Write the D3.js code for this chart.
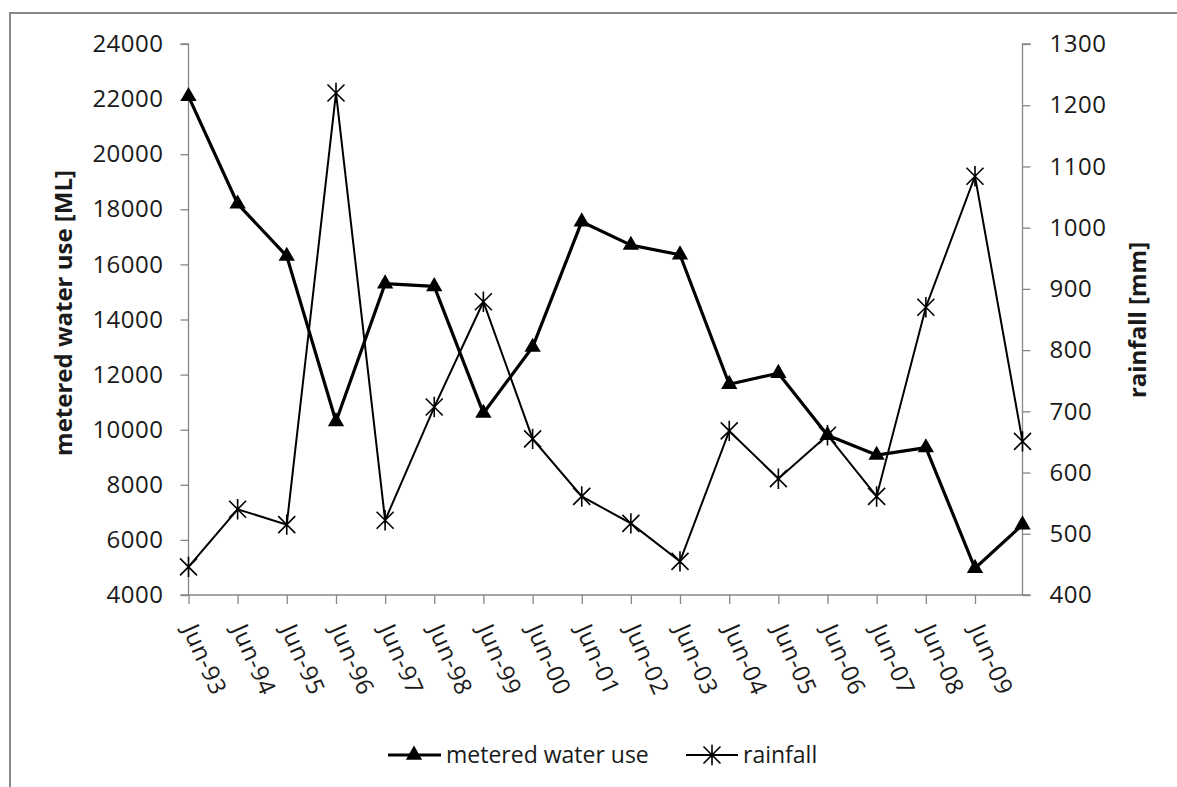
<!DOCTYPE html>
<html>
<head>
  <title>Metered water use and rainfall</title>
  <style>
    body { margin: 0; background: #fff; }
    text { font-family: "Open Sans", "Lato", sans-serif; fill: #1a1a1a; }
  </style>
</head>
<body>
  <div id="chart"></div>

  <script src="https://d3js.org/d3.v7.min.js"></script>
  <script>
    // Observation dates (last reading falls just short of Jun-10)
    const dates = [
      "1993-06-01", "1994-06-01", "1995-06-01", "1996-06-01", "1997-06-01", "1998-06-01",
      "1999-06-01", "2000-06-01", "2001-06-01", "2002-06-01", "2003-06-01", "2004-06-01",
      "2005-06-01", "2006-06-01", "2007-06-01", "2008-06-01", "2009-06-01", "2010-05-20"
    ].map(d3.timeParse("%Y-%m-%d"));

    // metered water use [ML]
    const waterUse = [22100, 18200, 16300, 10300, 15300, 15200, 10600, 13000, 17550,
                      16700, 16350, 11650, 12050, 9800, 9080, 9350, 4970, 6550];

    // rainfall [mm]
    const rainfall = [446, 540, 515, 1220, 522, 707, 879, 655, 561,
                      517, 455, 668, 590, 661, 561, 870, 1084, 651];

    const leftTicks = [4000, 6000, 8000, 10000, 12000, 14000, 16000, 18000, 20000, 22000, 24000];
    const rightTicks = [400, 500, 600, 700, 800, 900, 1000, 1100, 1200, 1300];
    const xTickYears = d3.range(1993, 2010);

    const width = 1177, height = 787;
    const svg = d3.select("#chart")
      .append("svg")
      .attr("width", width)
      .attr("height", height);

    // chart frame (right and bottom edges lie outside the picture)
    svg.append("rect")
      .attr("x", 10).attr("y", 13)
      .attr("width", width + 20).attr("height", height + 20)
      .attr("fill", "none")
      .attr("stroke", "#878787")
      .attr("stroke-width", 2);

    const pLeft = 188.5, pRight = 1022.5, pTop = 44, pBottom = 595;

    const x = d3.scaleTime()
      .domain([dates[0], dates[dates.length - 1]])
      .range([pLeft, pRight]);

    const yL = d3.scaleLinear().domain([4000, 24000]).range([pBottom, pTop]);
    const yR = d3.scaleLinear().domain([400, 1300]).range([pBottom, pTop]);

    const axisColor = "#868686";

    // left axis
    const gL = svg.append("g")
      .attr("transform", `translate(${pLeft},0)`)
      .call(d3.axisLeft(yL).tickValues(leftTicks).tickSize(8).tickPadding(17).tickFormat(d3.format("d")));

    // right axis
    const gR = svg.append("g")
      .attr("transform", `translate(${pRight},0)`)
      .call(d3.axisRight(yR).tickValues(rightTicks).tickSize(8).tickPadding(19).tickFormat(d3.format("d")));

    // bottom axis
    const gB = svg.append("g")
      .attr("transform", `translate(0,${pBottom})`)
      .call(d3.axisBottom(x)
        .tickValues(xTickYears.map(yr => new Date(yr, 5, 1)))
        .tickSize(9)
        .tickFormat(d3.timeFormat("%b-%y")));

    gB.selectAll(".tick text")
      .attr("text-anchor", "start")
      .attr("x", 0)
      .attr("y", 0)
      .attr("dy", 0)
      .attr("transform", "translate(-7,34) rotate(66)");

    [gL, gR, gB].forEach(g => {
      g.select(".domain").attr("stroke", axisColor).attr("stroke-width", 1.3);
      g.selectAll(".tick line").attr("stroke", axisColor).attr("stroke-width", 1.3);
      g.selectAll(".tick text")
        .style("font-size", "24px")
        .style("letter-spacing", "0.5px")
        .style("font-family", "'Open Sans', sans-serif")
        .attr("fill", "#1a1a1a");
    });
    gL.select(".domain").attr("d", `M-8,${pBottom}H0V${pTop}H-8`);
    gR.select(".domain").attr("d", `M8,${pBottom}H0V${pTop}H8`);
    gB.select(".domain").attr("d", `M${pLeft},0H${pRight}`);

    // axis titles
    svg.append("text")
      .attr("transform", `translate(72,313) rotate(-90)`)
      .attr("text-anchor", "middle")
      .style("font-size", "24px")
      .style("font-weight", "bold")
      .text("metered water use [ML]");

    svg.append("text")
      .attr("transform", `translate(1146,320) rotate(-90)`)
      .attr("text-anchor", "middle")
      .style("font-size", "24px")
      .style("font-weight", "bold")
      .text("rainfall [mm]");

    // markers
    const triangle = d3.symbol().type(d3.symbolTriangle).size(115);
    function star(g, size) {
      const s = size;
      g.append("path")
        .attr("d", `M${-s},${-s}L${s},${s}M${-s},${s}L${s},${-s}M0,${-s * 1.2}L0,${s * 1.2}`)
        .attr("stroke", "#000")
        .attr("stroke-width", 1.6)
        .attr("fill", "none");
    }

    const line = d3.line().x((d, i) => x(dates[i]));

    // rainfall series
    svg.append("path")
      .datum(rainfall)
      .attr("d", line.y(d => yR(d)))
      .attr("fill", "none")
      .attr("stroke", "#000")
      .attr("stroke-width", 2);

    svg.selectAll(".rain")
      .data(rainfall)
      .enter()
      .append("g")
      .attr("class", "rain")
      .attr("transform", (d, i) => `translate(${x(dates[i])},${yR(d)})`)
      .each(function() { star(d3.select(this), 8.5); });

    // metered water use series
    svg.append("path")
      .datum(waterUse)
      .attr("d", line.y(d => yL(d)))
      .attr("fill", "none")
      .attr("stroke", "#000")
      .attr("stroke-width", 3.2)
      .attr("stroke-linejoin", "round");

    svg.selectAll(".use")
      .data(waterUse)
      .enter()
      .append("path")
      .attr("class", "use")
      .attr("d", triangle)
      .attr("transform", (d, i) => `translate(${x(dates[i])},${yL(d)})`)
      .attr("fill", "#000");

    // legend
    const legY = 755;
    const leg = svg.append("g");
    leg.append("line").attr("x1", 388).attr("x2", 441).attr("y1", legY).attr("y2", legY)
      .attr("stroke", "#000").attr("stroke-width", 3.2);
    leg.append("path").attr("d", triangle).attr("transform", `translate(414,${legY})`).attr("fill", "#000");
    leg.append("text").attr("x", 446).attr("y", legY + 8).style("font-size", "23px").text("metered water use");

    leg.append("line").attr("x1", 686).attr("x2", 738).attr("y1", legY).attr("y2", legY)
      .attr("stroke", "#000").attr("stroke-width", 2);
    const ls = leg.append("g").attr("transform", `translate(712,${legY})`);
    star(ls, 8.5);
    leg.append("text").attr("x", 743).attr("y", legY + 8).style("font-size", "23px").text("rainfall");
  </script>
</body>
</html>
